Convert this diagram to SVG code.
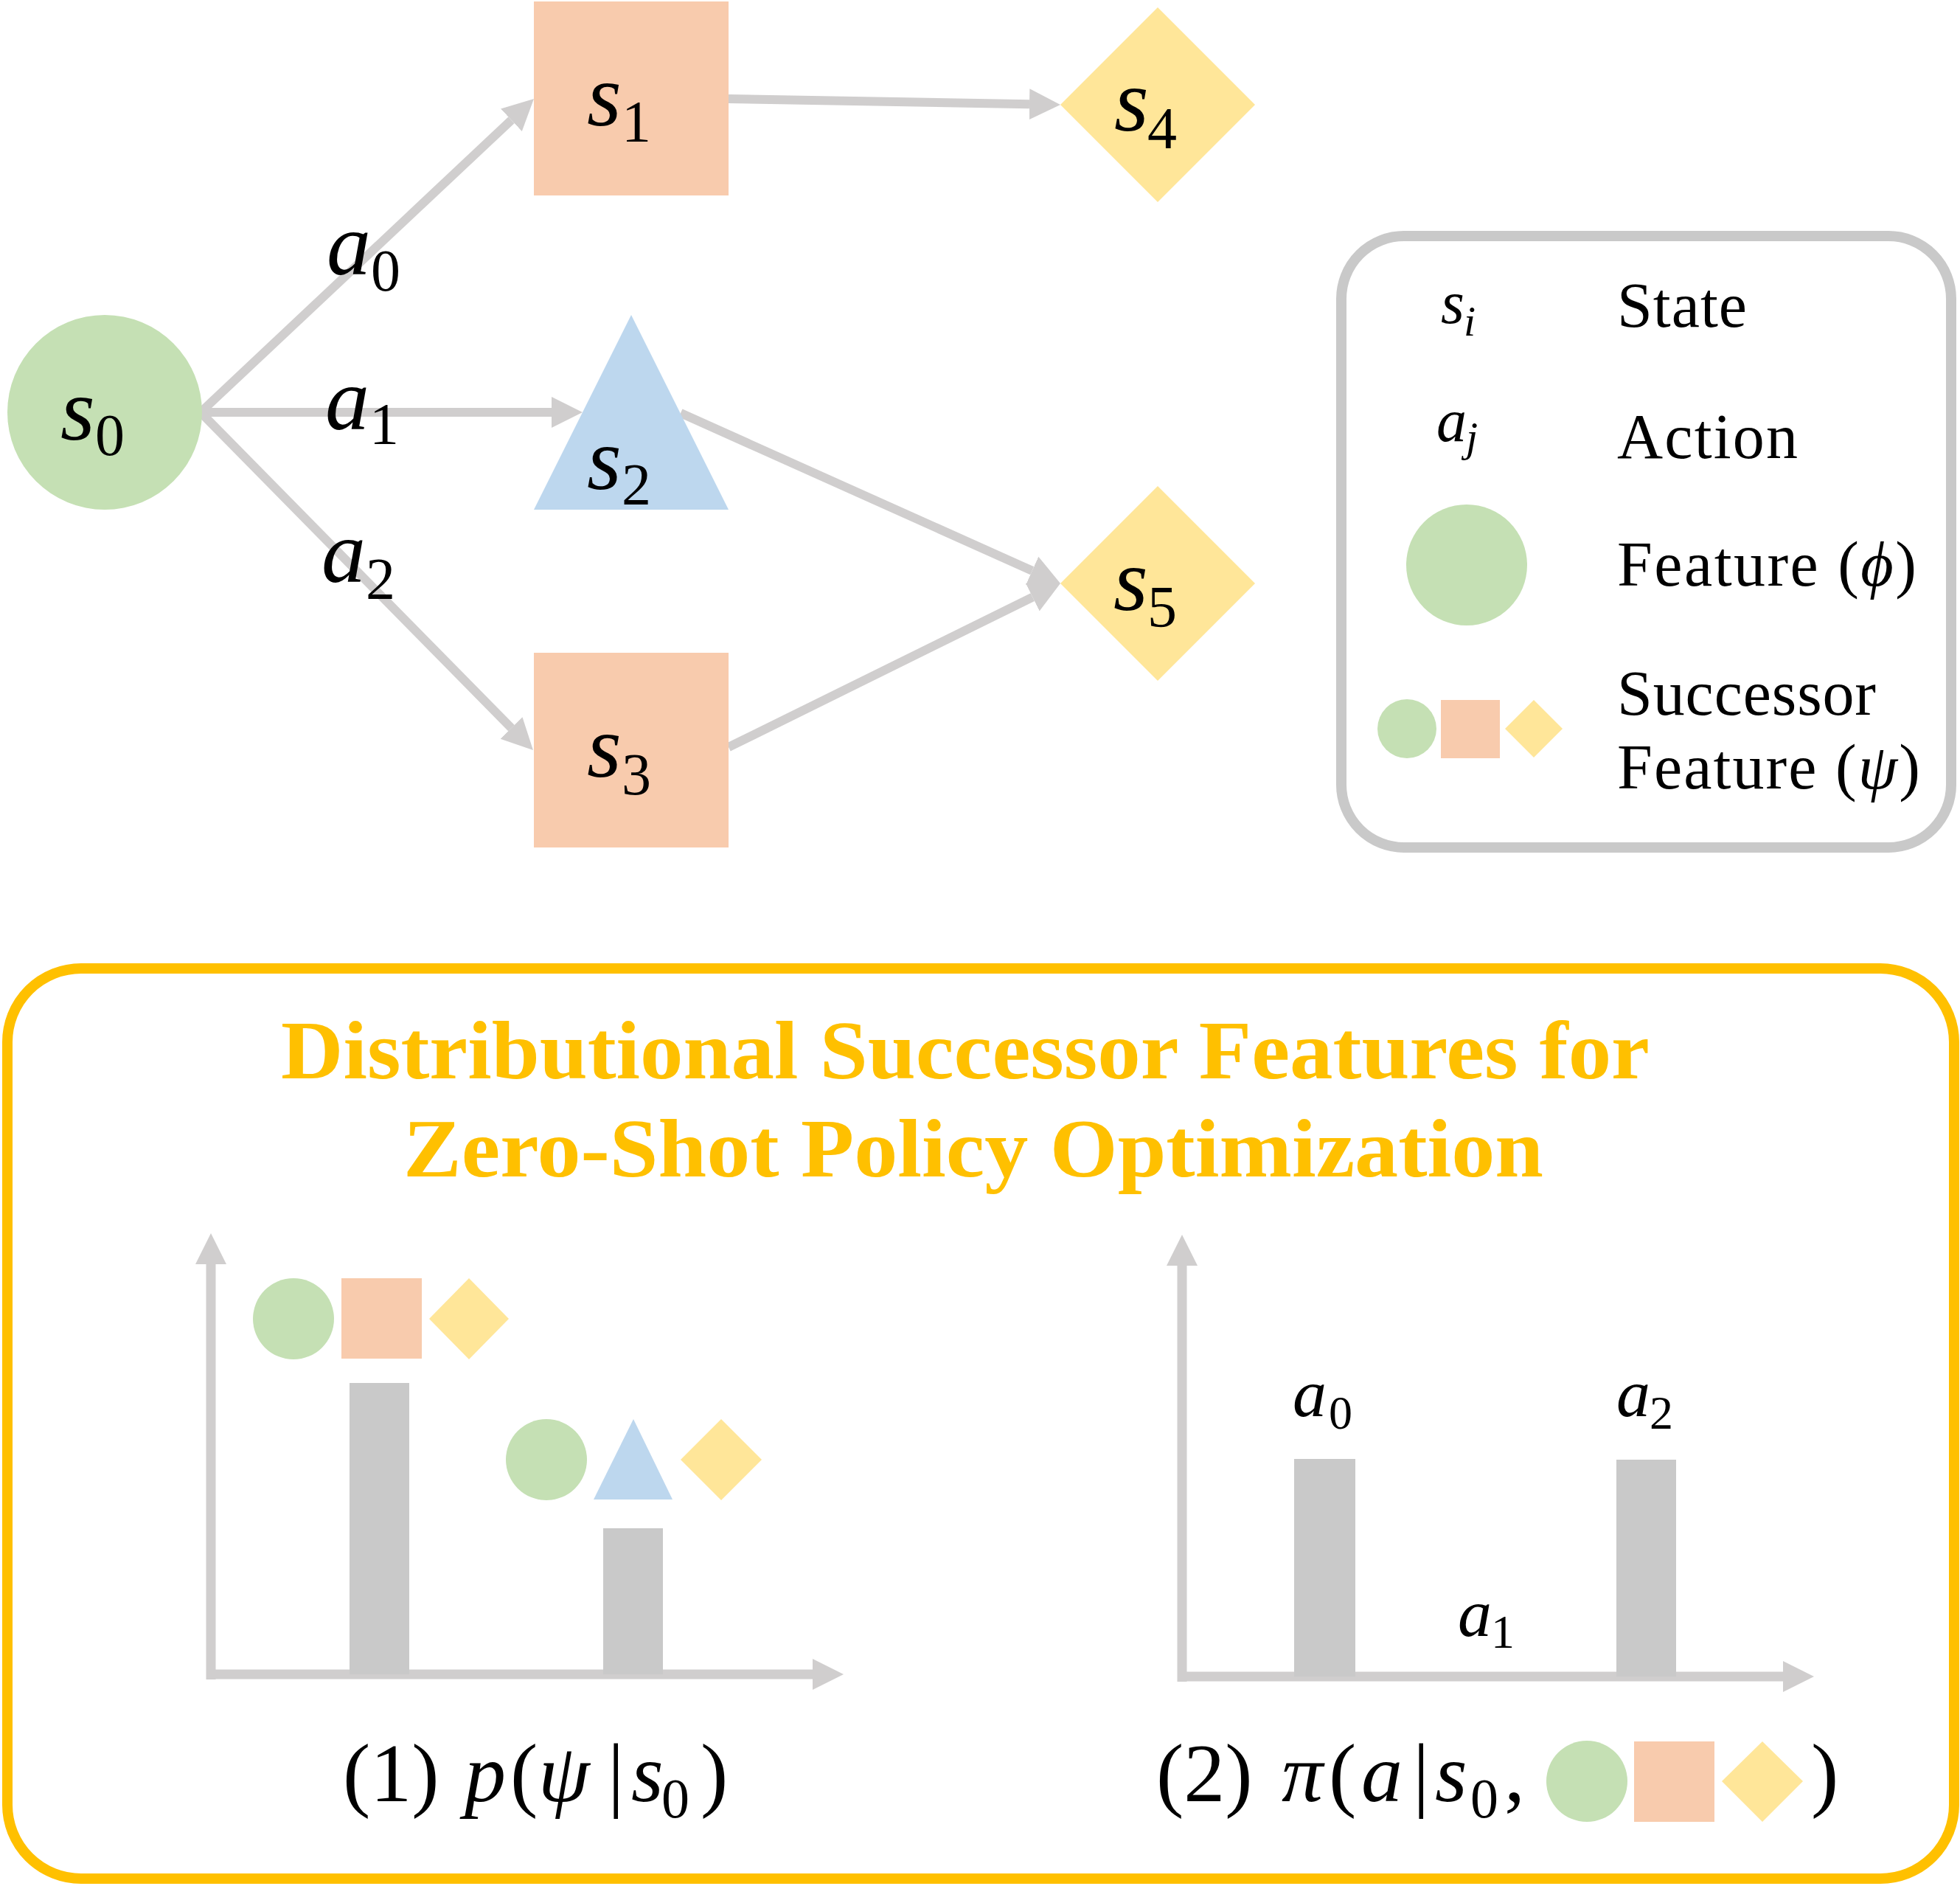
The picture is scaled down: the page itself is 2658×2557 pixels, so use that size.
<svg xmlns="http://www.w3.org/2000/svg" width="2658" height="2557" viewBox="0 0 2658 2557">
<style>
.green{fill:#C5E0B4}
.orange{fill:#F8CBAD}
.blue{fill:#BDD7EE}
.yellow{fill:#FFE699}
.bar{fill:#C9C9C9}
.conn{stroke:#D0CECE;stroke-width:12;fill:none;marker-end:url(#ah)}
.axis{stroke:#D0CECE;stroke-width:13;fill:none;marker-end:url(#ah)}
.m{font-family:"Liberation Serif","Times New Roman",serif;fill:#000}
.it{font-style:italic}
.big{font-size:120px}
.sub{font-size:80px;font-style:normal}
.mid{font-size:92px}
.subm{font-size:64px;font-style:normal}
.leg{font-family:"Liberation Serif","Times New Roman",serif;font-size:86px;fill:#000}
.title{font-family:"Liberation Serif","Times New Roman",serif;font-weight:bold;font-size:113px;fill:#FFC000}
.cap{font-family:"Liberation Serif","Times New Roman",serif;font-size:112px;fill:#000}
</style>
<defs>
<marker id="ah" markerUnits="userSpaceOnUse" markerWidth="44" markerHeight="44" viewBox="0 -22 44 44" refX="0" refY="0" orient="auto">
<path d="M0,-21 L42,0 L0,21 z" fill="#D0CECE"/>
</marker>
</defs>
<rect width="2658" height="2557" fill="#FFFFFF"/>

<g id="connectors">
<line class="conn" x1="272" y1="559" x2="693.4" y2="162.8"/>
<line class="conn" x1="272" y1="559" x2="748" y2="559"/>
<line class="conn" x1="272" y1="559" x2="693.5" y2="987.1"/>
<line class="conn" x1="988" y1="134" x2="1396" y2="141.25"/>
<line class="conn" x1="923" y1="560" x2="1399.7" y2="773.8"/>
<line class="conn" x1="988" y1="1013" x2="1400.3" y2="809.6"/>
</g>

<g id="edge-labels">
<text class="m big it" x="443" y="372">a<tspan class="sub" x="503" y="394">0</tspan></text>
<text class="m big it" x="441" y="582">a<tspan class="sub" x="501" y="602">1</tspan></text>
<text class="m big it" x="436" y="789">a<tspan class="sub" x="496" y="812">2</tspan></text>
</g>

<g id="s0">
<circle class="green" cx="142" cy="559" r="132"/>
<text class="m big it" x="82" y="596">s<tspan class="sub" x="129" y="617">0</tspan></text>
</g>
<g id="s1">
<rect class="orange" x="724" y="2" width="264" height="263"/>
<text class="m big it" x="796" y="170">s<tspan class="sub" x="843" y="192">1</tspan></text>
</g>
<g id="s2">
<polygon class="blue" points="856,427 988,691 724,691"/>
<text class="m big it" x="796" y="663">s<tspan class="sub" x="843" y="684">2</tspan></text>
</g>
<g id="s3">
<rect class="orange" x="724" y="885" width="264" height="264"/>
<text class="m big it" x="796" y="1053">s<tspan class="sub" x="843" y="1077">3</tspan></text>
</g>
<g id="s4">
<polygon class="yellow" points="1570,10 1702,142 1570,274 1438,142"/>
<text class="m big it" x="1511" y="177">s<tspan class="sub" x="1556" y="201">4</tspan></text>
</g>
<g id="s5">
<polygon class="yellow" points="1570,659 1702,791 1570,923 1438,791"/>
<text class="m big it" x="1510" y="827">s<tspan class="sub" x="1556" y="850">5</tspan></text>
</g>

<g id="legend">
<rect x="1819" y="320" width="827" height="829" rx="85" ry="85" fill="none" stroke="#C9C9C9" stroke-width="14"/>
<text class="m it" font-size="82" x="1954" y="438">s<tspan font-size="58" x="1985" y="455">i</tspan></text>
<text class="leg" x="2193" y="443" textLength="176">State</text>
<text class="m it" font-size="82" x="1948" y="598">a<tspan font-size="58" x="1988" y="612">j</tspan></text>
<text class="leg" x="2193" y="621" textLength="245">Action</text>
<circle class="green" cx="1989" cy="766" r="82"/>
<text class="leg" x="2193" y="794" textLength="406">Feature (<tspan font-style="italic">ϕ</tspan>)</text>
<circle class="green" cx="1908" cy="988" r="40"/>
<rect class="orange" x="1954" y="949" width="80" height="79"/>
<polygon class="yellow" points="2080,949 2119,988 2080,1027 2041,988"/>
<text class="leg" x="2193" y="969" textLength="351">Successor</text>
<text class="leg" x="2193" y="1069" textLength="411">Feature (<tspan font-style="italic">ψ</tspan>)</text>
</g>

<g id="panel">
<rect x="10" y="1313" width="2640" height="1234" rx="100" ry="100" fill="none" stroke="#FFC000" stroke-width="14"/>
<text class="title" x="381" y="1462" textLength="1856" lengthAdjust="spacingAndGlyphs">Distributional Successor Features for</text>
<text class="title" x="547" y="1595" textLength="1546" lengthAdjust="spacingAndGlyphs">Zero-Shot Policy Optimization</text>
</g>

<g id="chart1">
<line class="axis" x1="286" y1="2277" x2="286" y2="1714"/>
<line class="axis" x1="280" y1="2270" x2="1102" y2="2270"/>
<rect class="bar" x="474" y="1875" width="81" height="395"/>
<rect class="bar" x="818" y="2072" width="81" height="198"/>
<circle class="green" cx="398" cy="1788" r="55"/>
<rect class="orange" x="463" y="1733" width="109" height="109"/>
<polygon class="yellow" points="636,1733 690,1788 636,1843 582,1788"/>
<circle class="green" cx="741" cy="1979" r="55"/>
<polygon class="blue" points="859,1924 912,2033 805,2033"/>
<polygon class="yellow" points="978,1924 1033,1979 978,2034 923,1979"/>
<text class="cap" y="2442"><tspan x="465">(1)</tspan><tspan x="630" font-style="italic">p</tspan><tspan x="692">(</tspan><tspan x="730" font-style="italic">ψ</tspan><tspan x="824">|</tspan><tspan x="856" font-style="italic">s</tspan><tspan x="897" y="2464" font-size="76">0</tspan><tspan x="950" y="2442">)</tspan></text>
</g>

<g id="chart2">
<line class="axis" x1="1603" y1="2280" x2="1603" y2="1716"/>
<line class="axis" x1="1597" y1="2273" x2="2418" y2="2273"/>
<rect class="bar" x="1755" y="1978" width="83" height="295"/>
<rect class="bar" x="2192" y="1979" width="81" height="294"/>
<text class="m mid it" x="1753" y="1920">a<tspan class="subm" x="1802" y="1937">0</tspan></text>
<text class="m mid it" x="2192" y="1920">a<tspan class="subm" x="2237" y="1937">2</tspan></text>
<text class="m mid it" x="1977" y="2218">a<tspan class="subm" x="2022" y="2234">1</tspan></text>
<text class="cap" y="2442"><tspan x="1568">(2)</tspan><tspan x="1738" font-style="italic">π</tspan><tspan x="1802">(</tspan><tspan x="1846" font-style="italic">a</tspan><tspan x="1916">|</tspan><tspan x="1946" font-style="italic">s</tspan><tspan x="1994" y="2464" font-size="76">0</tspan><tspan x="2040" y="2442">,</tspan><tspan x="2456">)</tspan></text>
<circle class="green" cx="2152" cy="2415" r="55"/>
<rect class="orange" x="2216" y="2361" width="109" height="109"/>
<polygon class="yellow" points="2390,2361 2445,2415 2390,2470 2335,2415"/>
</g>
</svg>
